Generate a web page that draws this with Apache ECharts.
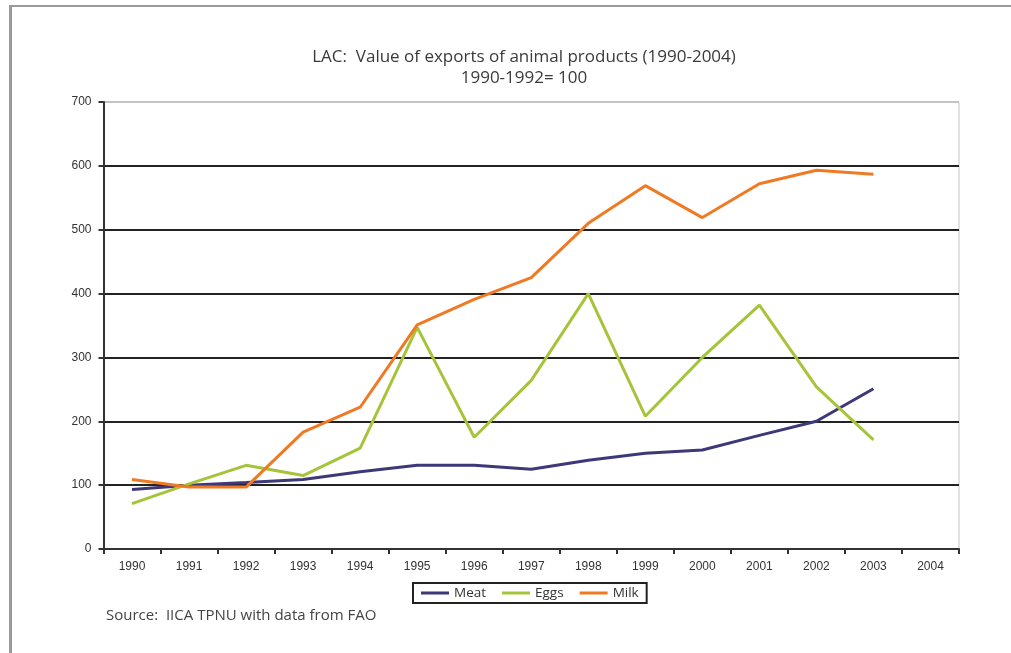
<!DOCTYPE html>
<html>
<head>
<meta charset="utf-8">
<script src="https://cdn.jsdelivr.net/npm/echarts@6/dist/echarts.min.js"></script>
<style>
  html, body { margin: 0; padding: 0; background: #fff; }
  #chart { width: 1011px; height: 653px; }
</style>
</head>
<body>
<div id="chart"></div>
<script>
// Export value index (1990-1992 = 100), Latin America & Caribbean
const years = ['1990', '1991', '1992', '1993', '1994', '1995', '1996', '1997',
               '1998', '1999', '2000', '2001', '2002', '2003', '2004'];
const meat = [93, 100, 104, 109, 121, 131, 131, 125, 139, 150, 155, 178, 200, 251, null];
const eggs = [71, 102, 131, 115, 158, 347, 175, 264, 400, 208, 300, 382, 254, 171, null];
const milk = [109, 97, 97, 183, 222, 351, 391, 425, 510, 569, 519, 572, 593, 587, null];
const yTicks = { min: 0, max: 700, interval: 100 };

const chart = echarts.init(document.getElementById('chart'), null, { renderer: 'canvas' });

const humanist = '"Open Sans", Lato, sans-serif';
const arial = '"Liberation Sans", Arial, sans-serif';

const line = (name, data, color) => ({
  name, type: 'line', data,
  symbol: 'none',
  lineStyle: { color, width: 3 },
  itemStyle: { color },
  animation: false
});

chart.setOption({
  animation: false,
  backgroundColor: '#ffffff',
  title: {
    text: 'LAC:  Value of exports of animal products (1990-2004)\n1990-1992= 100',
    left: 519, top: 42, textAlign: 'center',
    textStyle: { fontFamily: humanist, fontSize: 17, fontWeight: 'normal', color: '#3a3a3a', lineHeight: 21 }
  },
  legend: {
    data: ['Meat', 'Eggs', 'Milk'],
    left: 413, top: 583,
    icon: 'rect',
    borderColor: '#222', borderWidth: 2, borderRadius: 0,
    padding: [3, 8, 3, 8],
    itemGap: 16, itemWidth: 28, itemHeight: 3,
    textStyle: { fontFamily: humanist, fontSize: 13.5, color: '#333' }
  },
  grid: {
    left: 103.5, right: 52, top: 102, bottom: 104,
    show: true, borderColor: '#c4c4c4', borderWidth: 1
  },
  xAxis: {
    type: 'category', data: years, boundaryGap: true,
    axisLine: { lineStyle: { color: '#333', width: 2 } },
    axisTick: { show: true, interval: 0, length: 5, lineStyle: { color: '#333', width: 2 } },
    axisLabel: { interval: 0, margin: 12, fontFamily: arial, fontSize: 12, color: '#333' },
    splitLine: { show: false }
  },
  yAxis: {
    type: 'value', min: yTicks.min, max: yTicks.max, interval: yTicks.interval,
    axisLine: { show: true, lineStyle: { color: '#333', width: 2 } },
    axisTick: { show: true, length: 5, lineStyle: { color: '#333', width: 2 } },
    axisLabel: { margin: 12, fontFamily: arial, fontSize: 12, color: '#333' },
    splitLine: {
      show: true,
      lineStyle: { width: 2, color: ['#222', '#222', '#222', '#222', '#222', '#222', '#222', '#c4c4c4'] }
    }
  },
  series: [
    line('Meat', meat, '#3d3878'),
    line('Eggs', eggs, '#a6c43a'),
    line('Milk', milk, '#f07a24')
  ],
  graphic: [
    { type: 'rect', shape: { x: 9, y: 5, width: 1002, height: 2 }, style: { fill: '#9a9a9a' }, silent: true },
    { type: 'rect', shape: { x: 9, y: 5, width: 3, height: 648 }, style: { fill: '#9a9a9a' }, silent: true },
    {
      type: 'text', left: 106, top: 608, silent: true,
      style: { text: 'Source:  IICA TPNU with data from FAO', font: '15px ' + humanist, fill: '#444' }
    }
  ]
});
</script>
</body>
</html>
